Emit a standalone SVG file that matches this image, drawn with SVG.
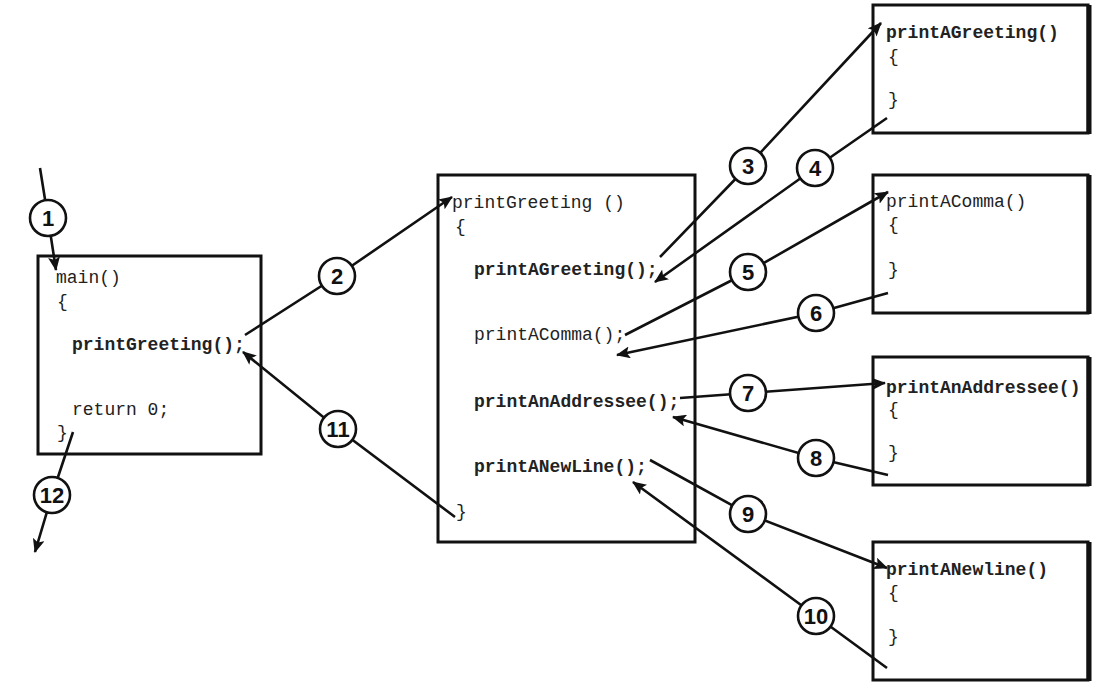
<svg xmlns="http://www.w3.org/2000/svg" width="1115" height="684" viewBox="0 0 1115 684">
<style>
.box{fill:#fff;stroke:#111;stroke-width:3}
.edge{stroke:#111;stroke-width:5}
.code{font-family:"Liberation Mono","Courier New",monospace;font-size:18px;fill:#222}
.b{font-weight:bold}
.con{fill:none;stroke:#111;stroke-width:2.6}
.num circle{fill:#fff;stroke:#111;stroke-width:2.6}
.num text{font-family:"Liberation Sans",Arial,sans-serif;font-weight:bold;font-size:22px;fill:#111;text-anchor:middle}
</style>
<defs>
<marker id="ah" viewBox="0 0 14 12" refX="13" refY="6" markerWidth="14" markerHeight="12" markerUnits="userSpaceOnUse" orient="auto">
<path d="M0,0 L14,6 L0,12 L3,6 Z" fill="#111"/>
</marker>
</defs>
<rect width="1115" height="684" fill="#fff"/>
<g id="main">
<rect class="box" x="38" y="256" width="223" height="198"/>
<text class="code" x="56" y="283">main()</text>
<text class="code" x="57" y="307">{</text>
<text class="code b" x="72" y="350">printGreeting();</text>
<text class="code" x="72" y="415">return 0;</text>
<text class="code" x="57" y="438">}</text>
</g>
<g id="printGreeting">
<rect class="box" x="438" y="175" width="257" height="367"/>
<text class="code" x="452" y="208">printGreeting ()</text>
<text class="code" x="455" y="232">{</text>
<text class="code b" x="474" y="275">printAGreeting();</text>
<text class="code" x="474" y="340">printAComma();</text>
<text class="code b" x="474" y="407">printAnAddressee();</text>
<text class="code b" x="474" y="472">printANewLine();</text>
<text class="code" x="456" y="517">}</text>
</g>
<g id="printAGreeting">
<rect class="box" x="873" y="5" width="215" height="128"/>
<line class="edge" x1="1089" y1="5" x2="1089" y2="134"/>
<text class="code b" x="886" y="38">printAGreeting()</text>
<text class="code" x="888" y="62">{</text>
<text class="code" x="888" y="105">}</text>
</g>
<g id="printAComma">
<rect class="box" x="873" y="175" width="215" height="138"/>
<line class="edge" x1="1089" y1="175" x2="1089" y2="314"/>
<text class="code" x="886" y="207">printAComma()</text>
<text class="code" x="888" y="230">{</text>
<text class="code" x="888" y="275">}</text>
</g>
<g id="printAnAddressee">
<rect class="box" x="873" y="357" width="215" height="128"/>
<line class="edge" x1="1089" y1="357" x2="1089" y2="486"/>
<text class="code b" x="886" y="393">printAnAddressee()</text>
<text class="code" x="888" y="415">{</text>
<text class="code" x="888" y="458">}</text>
</g>
<g id="printANewline">
<rect class="box" x="873" y="542" width="215" height="138"/>
<line class="edge" x1="1089" y1="542" x2="1089" y2="681"/>
<text class="code b" x="886" y="575">printANewline()</text>
<text class="code" x="888" y="598">{</text>
<text class="code" x="888" y="642">}</text>
</g>
<g id="connectors">
<polyline class="con" points="40,168 48,218 56,270" marker-end="url(#ah)"/>
<polyline class="con" points="245,335 337,276 452,197" marker-end="url(#ah)"/>
<polyline class="con" points="660,257 748,166 881,23" marker-end="url(#ah)"/>
<polyline class="con" points="887,118 815,168 655,282" marker-end="url(#ah)"/>
<polyline class="con" points="625,335 748,272 888,192" marker-end="url(#ah)"/>
<polyline class="con" points="888,293 816,313 617,355" marker-end="url(#ah)"/>
<polyline class="con" points="680,398 748,393 885,383" marker-end="url(#ah)"/>
<polyline class="con" points="888,475 816,458 673,417" marker-end="url(#ah)"/>
<polyline class="con" points="650,460 748,514 887,568" marker-end="url(#ah)"/>
<polyline class="con" points="887,668 816,616 633,482" marker-end="url(#ah)"/>
<polyline class="con" points="455,517 338,429 243,352" marker-end="url(#ah)"/>
<polyline class="con" points="73,432 52,495 35,552" marker-end="url(#ah)"/>
</g>
<g id="labels">
<g class="num"><circle cx="48" cy="218" r="18"/><text x="48" y="226">1</text></g>
<g class="num"><circle cx="337" cy="276" r="18"/><text x="337" y="284">2</text></g>
<g class="num"><circle cx="748" cy="166" r="18"/><text x="748" y="174">3</text></g>
<g class="num"><circle cx="815" cy="168" r="18"/><text x="815" y="176">4</text></g>
<g class="num"><circle cx="748" cy="272" r="18"/><text x="748" y="280">5</text></g>
<g class="num"><circle cx="816" cy="313" r="18"/><text x="816" y="321">6</text></g>
<g class="num"><circle cx="748" cy="393" r="18"/><text x="748" y="401">7</text></g>
<g class="num"><circle cx="816" cy="458" r="18"/><text x="816" y="466">8</text></g>
<g class="num"><circle cx="748" cy="514" r="18"/><text x="748" y="522">9</text></g>
<g class="num"><circle cx="816" cy="616" r="18"/><text x="816" y="624">10</text></g>
<g class="num"><circle cx="338" cy="429" r="18"/><text x="338" y="437">11</text></g>
<g class="num"><circle cx="52" cy="495" r="18"/><text x="52" y="503">12</text></g>
</g>
</svg>
